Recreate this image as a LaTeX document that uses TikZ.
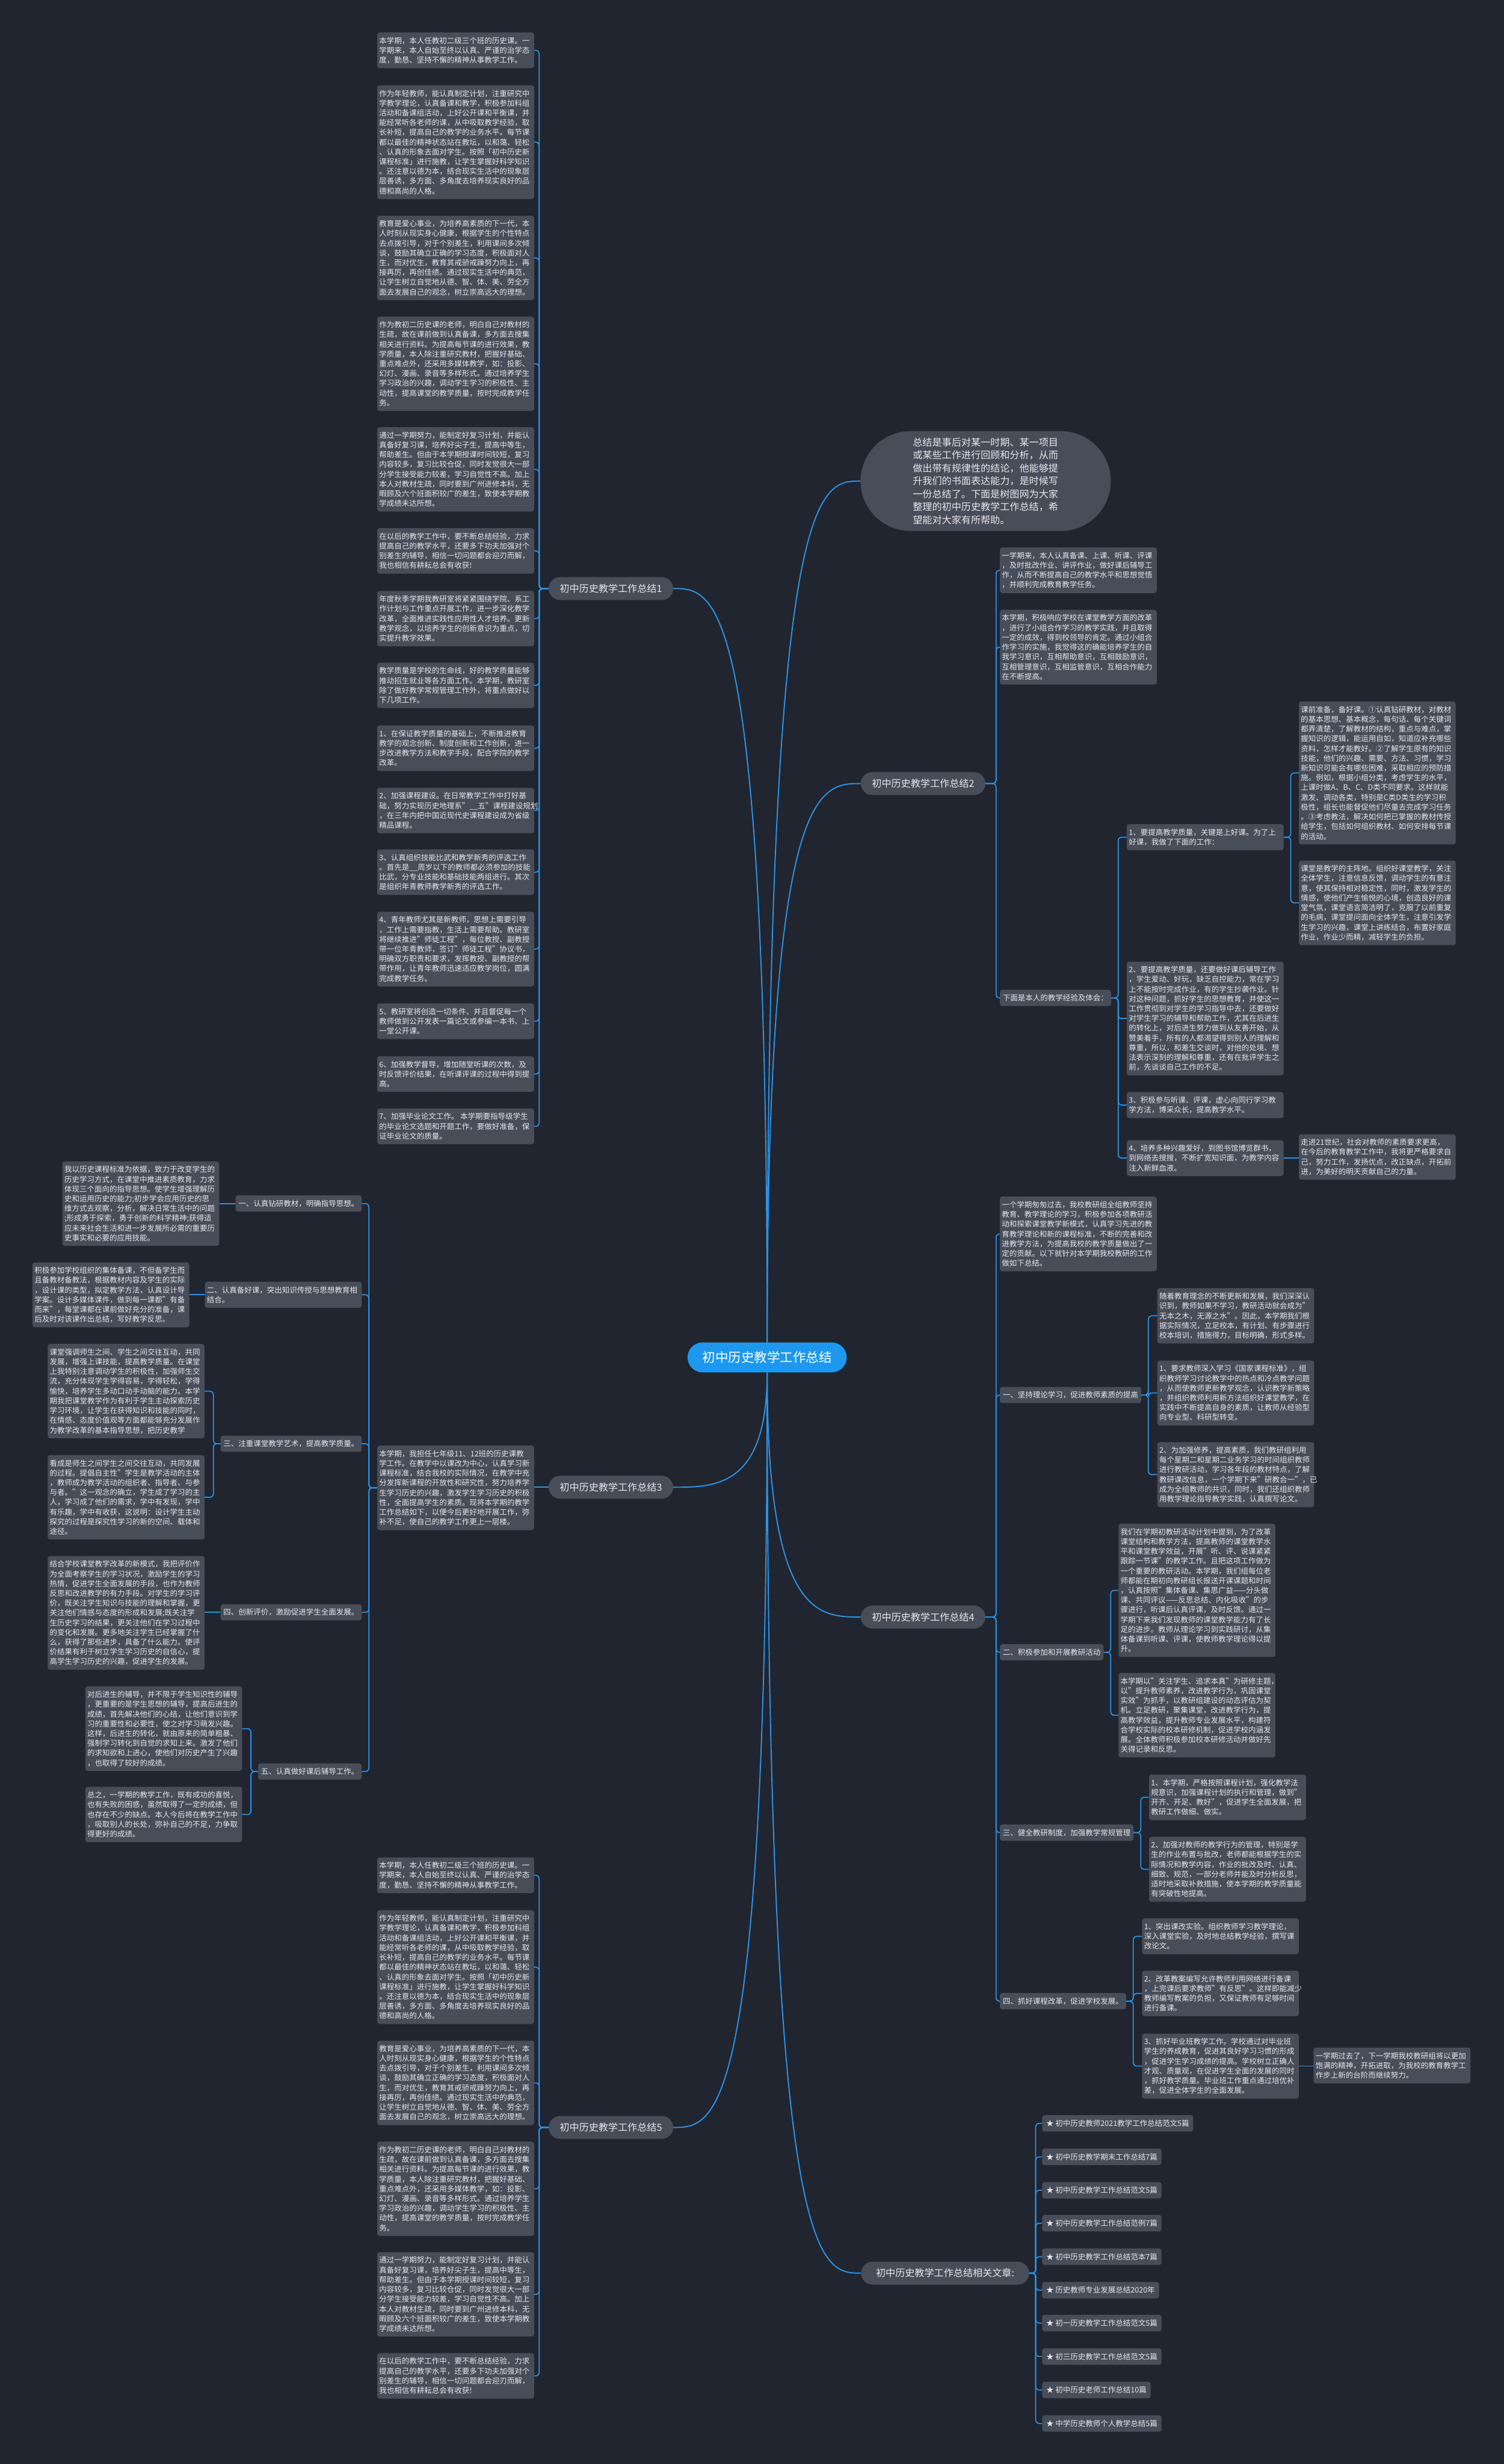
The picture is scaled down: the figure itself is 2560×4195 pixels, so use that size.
\documentclass[tikz,border=0pt]{standalone}
\usepackage{fontspec}
\setmainfont{Noto Sans CJK SC}
\usetikzlibrary{calc}
\definecolor{bgc}{HTML}{21252F}
\definecolor{boxc}{HTML}{484D5A}
\definecolor{txtc}{HTML}{E6E8EC}
\definecolor{linec}{HTML}{2A93E6}
\definecolor{rootc}{HTML}{1E98EE}
\newcommand{\smallfs}{\fontsize{12.8pt}{16.6pt}\selectfont}
\newcommand{\tbx}[5]{\node[tbox] (#1) at (#2,#3) {\parbox[c][\dimexpr 16.6pt*#4+11pt\relax][c]{260pt}{\raggedright #5}};}
\newcommand{\cR}[3]{\draw[cn] (#1.east) -- ++(#3,0) |- (#2.west);}
\newcommand{\cL}[3]{\draw[cn] (#1.west) -- ++(-#3,0) |- (#2.east);}
\newcommand{\rootUp}[2]{\draw[rcn] (root.north) .. controls (root.north |- #1.#2) and ($(root.north |- #1.#2)!0.55!(#1.#2)$) .. (#1.#2);}
\newcommand{\rootDn}[2]{\draw[rcn] (root.south) .. controls (root.south |- #1.#2) and ($(root.south |- #1.#2)!0.55!(#1.#2)$) .. (#1.#2);}
\begin{document}
\begin{tikzpicture}[x=1pt,y=-1pt,
  tbox/.style={fill=boxc,rounded corners=4pt,text=txtc,inner xsep=3.5pt,inner ysep=0pt,anchor=north west,font=\smallfs},
  lbl/.style={fill=boxc,rounded corners=4pt,text=txtc,inner xsep=5pt,inner ysep=0pt,minimum height=27.6pt,font=\smallfs},
  item/.style={fill=boxc,rounded corners=4pt,text=txtc,inner xsep=7pt,inner ysep=0pt,minimum height=28pt,anchor=west,font=\smallfs},
  pill/.style={fill=boxc,rounded corners=19.5pt,minimum width=212pt,minimum height=39pt,text=txtc,inner sep=0pt,font=\fontsize{16.5pt}{20pt}\selectfont},
  rootn/.style={fill=rootc,rounded corners=25.5pt,minimum width=271pt,minimum height=51pt,text=white,inner sep=0pt,font=\fontsize{22pt}{26pt}\selectfont},
  bub/.style={fill=boxc,rounded corners=85pt,minimum width=426pt,minimum height=170pt,text=txtc,inner sep=0pt},
  cn/.style={draw=linec,line width=1.8pt,rounded corners=6pt},
  rcn/.style={draw=linec,line width=2pt}
]
\fill[bgc] (0,0) rectangle (2560,4195);
\useasboundingbox (0,0) rectangle (2560,4195);

% ---------- root and first level ----------
\node[rootn] (root) at (1306,2311) {初中历史教学工作总结};
\node[pill] (n1) at (1040,1002) {初中历史教学工作总结1};
\node[pill] (n2) at (1571.5,1334) {初中历史教学工作总结2};
\node[pill] (n3) at (1040,2532) {初中历史教学工作总结3};
\node[pill] (n4) at (1571.5,2753) {初中历史教学工作总结4};
\node[pill] (n5) at (1040,3622) {初中历史教学工作总结5};
\node[pill,minimum width=286pt] (rel) at (1609,3870) {初中历史教学工作总结相关文章:};
\node[bub] (bub) at (1678,819) {\parbox{248pt}{\fontsize{16.5pt}{22pt}\selectfont\raggedright
总结是事后对某一时期、某一项目\\或某些工作进行回顾和分析，从而\\做出带有规律性的结论，他能够提\\升我们的书面表达能力，是时候写\\一份总结了。下面是树图网为大家\\整理的初中历史教学工作总结，希\\望能对大家有所帮助。}};

\rootUp{n1}{east}
\rootUp{bub}{west}
\rootUp{n2}{west}
\rootDn{n3}{east}
\rootDn{n4}{west}
\rootDn{n5}{east}
\rootDn{rel}{west}

% ---------- branch 1 ----------
\tbx{a1}{642}{55}{3}{本学期，本人任教初二级三个班的历史课。一\\学期来，本人自始至终以认真、严谨的治学态\\度，勤恳、坚持不懈的精神从事教学工作。}
\tbx{a2}{642}{145}{11}{作为年轻教师，能认真制定计划，注重研究中\\学教学理论，认真备课和教学，积极参加科组\\活动和备课组活动，上好公开课和平衡课，并\\能经常听各老师的课，从中吸取教学经验，取\\长补短，提高自己的教学的业务水平。每节课\\都以最佳的精神状态站在教坛，以和蔼、轻松\\、认真的形象去面对学生。按照「初中历史新\\课程标准」进行施教，让学生掌握好科学知识\\。还注意以德为本，结合现实生活中的现象层\\层善诱，多方面、多角度去培养现实良好的品\\德和高尚的人格。}
\tbx{a3}{642}{367}{8}{教育是爱心事业，为培养高素质的下一代，本\\人时刻从现实身心健康，根据学生的个性特点\\去点拨引导，对于个别差生，利用课间多次倾\\谈，鼓励其确立正确的学习态度，积极面对人\\生，而对优生，教育其戒骄戒躁努力向上，再\\接再厉，再创佳绩。通过现实生活中的典范，\\让学生树立自觉地从德、智、体、美、劳全方\\面去发展自己的观念，树立崇高远大的理想。}
\tbx{a4}{642}{539}{9}{作为教初二历史课的老师，明白自己对教材的\\生疏，故在课前做到认真备课，多方面去搜集\\相关进行资料。为提高每节课的进行效果，教\\学质量，本人除注重研究教材，把握好基础、\\重点难点外，还采用多媒体教学，如：投影、\\幻灯、漫画、录音等多样形式。通过培养学生\\学习政治的兴趣，调动学生学习的积极性、主\\动性，提高课堂的教学质量，按时完成教学任\\务。}
\tbx{a5}{642}{727}{8}{通过一学期努力，能制定好复习计划，并能认\\真备好复习课，培养好尖子生，提高中等生，\\帮助差生。但由于本学期授课时间较短，复习\\内容较多，复习比较仓促，同时发觉很大一部\\分学生接受能力较差，学习自觉性不高。加上\\本人对教材生疏，同时要到广州进修本科，无\\暇顾及六个班面积较广的差生，致使本学期教\\学成绩未达所想。}
\tbx{a6}{642}{899}{4}{在以后的教学工作中，要不断总结经验，力求\\提高自己的教学水平，还要多下功夫加强对个\\别差生的辅导，相信一切问题都会迎刃而解，\\我也相信有耕耘总会有收获!}
\tbx{a7}{642}{1006}{5}{年度秋季学期我教研室将紧紧围绕学院、系工\\作计划与工作重点开展工作，进一步深化教学\\改革，全面推进实践性应用性人才培养。更新\\教学观念，以培养学生的创新意识为重点，切\\实提升教学效果。}
\tbx{a8}{642}{1128}{4}{教学质量是学校的生命线，好的教学质量能够\\推动招生就业等各方面工作。本学期，教研室\\除了做好教学常规管理工作外，将重点做好以\\下几项工作。}
\tbx{a9}{642}{1235}{4}{1、在保证教学质量的基础上，不断推进教育\\教学的观念创新、制度创新和工作创新，进一\\步改进教学方法和教学手段，配合学院的教学\\改革。}
\tbx{a10}{642}{1341}{4}{2、加强课程建设。在日常教学工作中打好基\\础，努力实现历史地理系"\_\_五"课程建设规划\\，在三年内把中国近现代史课程建设成为省级\\精品课程。}
\tbx{a11}{642}{1446}{4}{3、认真组织技能比武和教学新秀的评选工作\\。首先是\_\_周岁以下的教师都必须参加的技能\\比武，分专业技能和基础技能两组进行。其次\\是组织年青教师教学新秀的评选工作。}
\tbx{a12}{642}{1552}{7}{4、青年教师尤其是新教师，思想上需要引导\\，工作上需要指教，生活上需要帮助。教研室\\将继续推进"师徒工程"，每位教授、副教授\\带一位年青教师，签订"师徒工程"协议书，\\明确双方职责和要求，发挥教授、副教授的帮\\带作用，让青年教师迅速适应教学岗位，圆满\\完成教学任务。}
\tbx{a13}{642}{1708}{3}{5、教研室将创造一切条件、并且督促每一个\\教师做到公开发表一篇论文或参编一本书、上\\一堂公开课。}
\tbx{a14}{642}{1798}{3}{6、加强教学督导，增加随堂听课的次数，及\\时反馈评价结果，在听课评课的过程中得到提\\高。}
\tbx{a15}{642}{1887}{3}{7、加强毕业论文工作。 本学期要指导级学生\\的毕业论文选题和开题工作，要做好准备，保\\证毕业论文的质量。}
\foreach \k in {1,...,15}{\cL{n1}{a\k}{16}}

% ---------- branch 5 ----------
\tbx{e1}{642}{3162}{3}{本学期，本人任教初二级三个班的历史课。一\\学期来，本人自始至终以认真、严谨的治学态\\度，勤恳、坚持不懈的精神从事教学工作。}
\tbx{e2}{642}{3252}{11}{作为年轻教师，能认真制定计划，注重研究中\\学教学理论，认真备课和教学，积极参加科组\\活动和备课组活动，上好公开课和平衡课，并\\能经常听各老师的课，从中吸取教学经验，取\\长补短，提高自己的教学的业务水平。每节课\\都以最佳的精神状态站在教坛，以和蔼、轻松\\、认真的形象去面对学生。按照「初中历史新\\课程标准」进行施教，让学生掌握好科学知识\\。还注意以德为本，结合现实生活中的现象层\\层善诱，多方面、多角度去培养现实良好的品\\德和高尚的人格。}
\tbx{e3}{642}{3474}{8}{教育是爱心事业，为培养高素质的下一代，本\\人时刻从现实身心健康，根据学生的个性特点\\去点拨引导，对于个别差生，利用课间多次倾\\谈，鼓励其确立正确的学习态度，积极面对人\\生，而对优生，教育其戒骄戒躁努力向上，再\\接再厉，再创佳绩。通过现实生活中的典范，\\让学生树立自觉地从德、智、体、美、劳全方\\面去发展自己的观念，树立崇高远大的理想。}
\tbx{e4}{642}{3646}{9}{作为教初二历史课的老师，明白自己对教材的\\生疏，故在课前做到认真备课，多方面去搜集\\相关进行资料。为提高每节课的进行效果，教\\学质量，本人除注重研究教材，把握好基础、\\重点难点外，还采用多媒体教学，如：投影、\\幻灯、漫画、录音等多样形式。通过培养学生\\学习政治的兴趣，调动学生学习的积极性、主\\动性，提高课堂的教学质量，按时完成教学任\\务。}
\tbx{e5}{642}{3834}{8}{通过一学期努力，能制定好复习计划，并能认\\真备好复习课，培养好尖子生，提高中等生，\\帮助差生。但由于本学期授课时间较短，复习\\内容较多，复习比较仓促，同时发觉很大一部\\分学生接受能力较差，学习自觉性不高。加上\\本人对教材生疏，同时要到广州进修本科，无\\暇顾及六个班面积较广的差生，致使本学期教\\学成绩未达所想。}
\tbx{e6}{642}{4006}{4}{在以后的教学工作中，要不断总结经验，力求\\提高自己的教学水平，还要多下功夫加强对个\\别差生的辅导，相信一切问题都会迎刃而解，\\我也相信有耕耘总会有收获!}
\foreach \k in {1,...,6}{\cL{n5}{e\k}{16}}

% ---------- branch 2 ----------
\tbx{b1}{1702}{932}{4}{一学期来，本人认真备课、上课、听课、评课\\，及时批改作业、讲评作业，做好课后辅导工\\作，从而不断提高自己的教学水平和思想觉悟\\，并顺利完成教育教学任务。}
\tbx{b2}{1702}{1038}{7}{本学期，积极响应学校在课堂教学方面的改革\\，进行了小组合作学习的教学实践，并且取得\\一定的成效，得到校领导的肯定。通过小组合\\作学习的实施，我觉得这的确能培养学生的自\\我学习意识，互相帮助意识，互相鼓励意识，\\互相管理意识，互相监管意识，互相合作能力\\在不断提高。}
\node[lbl,anchor=west] (b3) at (1702,1699) {下面是本人的教学经验及体会：};
\foreach \k in {1,2,3}{\cR{n2}{b\k}{18}}
\tbx{c1}{1918}{1403}{2}{1、要提高教学质量，关键是上好课。为了上\\好课，我做了下面的工作：}
\tbx{c2}{1918}{1637}{11}{2、要提高教学质量，还要做好课后辅导工作\\，学生爱动、好玩，缺乏自控能力，常在学习\\上不能按时完成作业，有的学生抄袭作业。针\\对这种问题，抓好学生的思想教育，并使这一\\工作贯彻到对学生的学习指导中去，还要做好\\对学生学习的辅导和帮助工作，尤其在后进生\\的转化上，对后进生努力做到从友善开始，从\\赞美着手，所有的人都渴望得到别人的理解和\\尊重，所以，和差生交谈时，对他的处境、想\\法表示深刻的理解和尊重，还有在批评学生之\\前，先谈谈自己工作的不足。}
\tbx{c3}{1918}{1859}{2}{3、积极参与听课、评课，虚心向同行学习教\\学方法，博采众长，提高教学水平。}
\tbx{c4}{1918}{1941}{3}{4、培养多种兴趣爱好，到图书馆博览群书，\\到网络去搜搜，不断扩宽知识面，为教学内容\\注入新鲜血液。}
\foreach \k in {1,...,4}{\cR{b3}{c\k}{12}}
\tbx{c1a}{2211}{1194}{14}{课前准备，备好课。①认真钻研教材，对教材\\的基本思想、基本概念，每句话、每个关键词\\都弄清楚，了解教材的结构，重点与难点，掌\\握知识的逻辑，能运用自如，知道应补充哪些\\资料，怎样才能教好。②了解学生原有的知识\\技能，他们的兴趣、需要、方法、习惯，学习\\新知识可能会有哪些困难，采取相应的预防措\\施。例如，根据小组分类，考虑学生的水平，\\上课时做A、B、C、D类不同要求。这样就能\\激发、调动各类，特别是C类D类生的学习积\\极性，组长也能督促他们尽量去完成学习任务\\。③考虑教法，解决如何把已掌握的教材传授\\给学生，包括如何组织教材、如何安排每节课\\的活动。}
\tbx{c1b}{2211}{1465}{8}{课堂是教学的主阵地。组织好课堂教学，关注\\全体学生，注意信息反馈，调动学生的有意注\\意，使其保持相对稳定性，同时，激发学生的\\情感，使他们产生愉悦的心境，创造良好的课\\堂气氛，课堂语言简洁明了，克服了以前重复\\的毛病，课堂提问面向全体学生，注意引发学\\生学习的兴趣，课堂上讲练结合，布置好家庭\\作业，作业少而精，减轻学生的负担。}
\cR{c1}{c1a}{12}
\cR{c1}{c1b}{12}
\tbx{c4a}{2211}{1931}{4}{走进21世纪，社会对教师的素质要求更高，\\在今后的教育教学工作中，我将更严格要求自\\己，努力工作，发扬优点，改正缺点，开拓前\\进，为美好的明天贡献自己的力量。}
\draw[cn] (c4.east) -- (c4a.west |- c4.east);

% ---------- branch 3 ----------
\tbx{s0}{642}{2461}{8}{本学期，我担任七年级11、12班的历史课教\\学工作。在教学中以课改为中心，认真学习新\\课程标准，结合我校的实际情况，在教学中充\\分发挥新课程的开放性和研究性，努力培养学\\生学习历史的兴趣，激发学生学习历史的积极\\性，全面提高学生的素质。现将本学期的教学\\工作总结如下，以便今后更好地开展工作，弥\\补不足，使自己的教学工作更上一层楼。}
\draw[cn] (n3.west) -- (s0.east |- n3.west);
\node[lbl,anchor=east] (l1) at (616,2049) {一、认真钻研教材，明确指导思想。};
\node[tbox,anchor=north east] (l2) at (616,2182) {\parbox[c][\dimexpr 16.6pt*2+11pt\relax][c]{260pt}{\raggedright 二、认真备好课，突出知识传授与思想教育相\\结合。}};
\node[lbl,anchor=east] (l3) at (616,2458) {三、注重课堂教学艺术，提高教学质量。};
\node[lbl,anchor=east] (l4) at (616,2745) {四、创新评价，激励促进学生全面发展。};
\node[lbl,anchor=east] (l5) at (616,3016) {五、认真做好课后辅导工作。};
\foreach \k in {1,...,5}{\cL{s0}{l\k}{14}}
\tbx{l1a}{106}{1977}{8}{我以历史课程标准为依据，致力于改变学生的\\历史学习方式，在课堂中推进素质教育，力求\\体现三个面向的指导思想。使学生增强理解历\\史和运用历史的能力;初步学会应用历史的思\\维方式去观察，分析，解决日常生活中的问题\\;形成勇于探索，勇于创新的科学精神;获得适\\应未来社会生活和进一步发展所必需的重要历\\史事实和必要的应用技能。}
\tbx{l2a}{55}{2149}{6}{积极参加学校组织的集体备课，不但备学生而\\且备教材备教法，根据教材内容及学生的实际\\，设计课的类型，拟定教学方法，认真设计导\\学案。设计多媒体课件，做到每一课都"有备\\而来"，每堂课都在课前做好充分的准备，课\\后及时对该课作出总结，写好教学反思。}
\tbx{l3a}{81}{2288}{9}{课堂强调师生之间、学生之间交往互动，共同\\发展，增强上课技能，提高教学质量。在课堂\\上我特别注意调动学生的积极性，加强师生交\\流，充分体现学生学得容易，学得轻松，学得\\愉快，培养学生多动口动手动脑的能力。本学\\期我把课堂教学作为有利于学生主动探索历史\\学习环境，让学生在获得知识和技能的同时，\\在情感、态度价值观等方面都能够充分发展作\\为教学改革的基本指导思想，把历史教学}
\tbx{l3b}{81}{2477}{8}{看成是师生之间学生之间交往互动，共同发展\\的过程。提倡自主性"学生是教学活动的主体\\，教师成为教学活动的组织者、指导者、与参\\与者。"这一观念的确立，学生成了学习的主\\人，学习成了他们的需求，学中有发现，学中\\有乐趣，学中有收获，这说明：设计学生主动\\探究的过程是探究性学习的新的空间、载体和\\途径。}
\tbx{l4a}{81}{2649}{11}{结合学校课堂教学改革的新模式，我把评价作\\为全面考察学生的学习状况，激励学生的学习\\热情，促进学生全面发展的手段，也作为教师\\反思和改进教学的有力手段。对学生的学习评\\价，既关注学生知识与技能的理解和掌握，更\\关注他们情感与态度的形成和发展;既关注学\\生历史学习的结果，更关注他们在学习过程中\\的变化和发展。更多地关注学生已经掌握了什\\么，获得了那些进步，具备了什么能力。使评\\价结果有利于树立学生学习历史的自信心，提\\高学生学习历史的兴趣，促进学生的发展。}
\tbx{l5a}{145}{2871}{8}{对后进生的辅导，并不限于学生知识性的辅导\\，更重要的是学生思想的辅导，提高后进生的\\成绩，首先解决他们的心结，让他们意识到学\\习的重要性和必要性，使之对学习萌发兴趣。\\这样，后进生的转化，就由原来的简单粗暴、\\强制学习转化到自觉的求知上来。激发了他们\\的求知欲和上进心，使他们对历史产生了兴趣\\，也取得了较好的成绩。}
\tbx{l5b}{145}{3042}{5}{总之，一学期的教学工作，既有成功的喜悦，\\也有失败的困惑，虽然取得了一定的成绩，但\\也存在不少的缺点。本人今后将在教学工作中\\，吸取别人的长处，弥补自己的不足，力争取\\得更好的成绩。}
\draw[cn] (l1.west) -- (l1a.east |- l1.west);
\draw[cn] (l2.west) -- (l2a.east |- l2.west);
\cL{l3}{l3a}{12}
\cL{l3}{l3b}{12}
\draw[cn] (l4.west) -- (l4a.east |- l4.west);
\cL{l5}{l5a}{12}
\cL{l5}{l5b}{12}

% ---------- branch 4 ----------
\tbx{d0}{1702}{2037}{7}{一个学期匆匆过去，我校教研组全组教师坚持\\教育、教学理论的学习，积极参加各项教研活\\动和探索课堂教学新模式，认真学习先进的教\\育教学理论和新的课程标准，不断的完善和改\\进教学方法，为提高我校的教学质量做出了一\\定的贡献。以下就针对本学期我校教研的工作\\做如下总结。}
\node[lbl,anchor=west] (d1) at (1702,2375) {一、坚持理论学习，促进教师素质的提高};
\node[lbl,anchor=west] (d2) at (1702,2813) {二、积极参加和开展教研活动};
\node[lbl,anchor=west] (d3) at (1702,3120) {三、健全教研制度，加强教学常规管理};
\node[lbl,anchor=west] (d4) at (1702,3407) {四、抓好课程改革，促进学校发展。};
\foreach \k in {0,...,4}{\cR{n4}{d\k}{18}}
\tbx{d1a}{1970}{2193}{5}{随着教育理念的不断更新和发展，我们深深认\\识到，教师如果不学习，教研活动就会成为"\\无本之木，无源之水"。因此，本学期我们根\\据实际情况，立足校本，有计划、有步骤进行\\校本培训，措施得力，目标明确，形式多样。}
\tbx{d1b}{1970}{2316}{6}{1、要求教师深入学习《国家课程标准》，组\\织教师学习讨论教学中的热点和冷点教学问题\\，从而使教师更新教学观念，认识教学新策略\\，并组织教师利用新方法组织好课堂教学，在\\实践中不断提高自身的素质，让教师从经验型\\向专业型、科研型转变。}
\tbx{d1c}{1970}{2455}{6}{2、为加强修养，提高素质，我们教研组利用\\每个星期二和星期二业务学习的时间组织教师\\进行教研活动，学习各年段的教材特点，了解\\教研课改信息，一个学期下来"研教合一"，已\\成为全组教师的共识，同时，我们还组织教师\\用教学理论指导教学实践，认真撰写论文。}
\foreach \k in {a,b,c}{\cR{d1}{d1\k}{12}}
\tbx{d2a}{1904}{2594}{13}{我们在学期初教研活动计划中提到，为了改革\\课堂结构和教学方法，提高教师的课堂教学水\\平和课堂教学效益，开展"听、评、说课紧紧\\跟踪一节课"的教学工作。且把这项工作做为\\一个重要的教研活动。本学期，我们组每位老\\师都能在期初向教研组长报送开课课题和时间\\，认真按照"集体备课、集思广益——分头做\\课、共同评议——反思总结、内化吸收"的步\\骤进行，听课后认真评课，及时反馈。通过一\\学期下来我们发现教师的课堂教学能力有了长\\足的进步。教师从理论学习到实践研讨，从集\\体备课到听课、评课，使教师教学理论得以提\\升。}
\tbx{d2b}{1904}{2848}{8}{本学期以"关注学生、追求本真"为研修主题，\\以"提升教师素养，改进教学行为，巩固课堂\\实效"为抓手，以教研组建设的动态评估为契\\机。立足教研，聚集课堂，改进教学行为，提\\高教学效益，提升教师专业发展水平，构建符\\合学校实际的校本研修机制，促进学校内涵发\\展。全体教师积极参加校本研修活动并做好先\\关得记录和反思。}
\foreach \k in {a,b}{\cR{d2}{d2\k}{12}}
\tbx{d3a}{1956}{3021}{4}{1、本学期，严格按照课程计划，强化教学法\\规意识，加强课程计划的执行和管理，做到"\\开齐、开足、教好"，促进学生全面发展，把\\教研工作做细、做实。}
\tbx{d3b}{1956}{3127}{6}{2、加强对教师的教学行为的管理，特别是学\\生的作业布置与批改，老师都能根据学生的实\\际情况和教学内容，作业的批改及时、认真、\\细致、规范，一部分老师并能及时分析反思，\\适时地采取补救措施，使本学期的教学质量能\\有突破性地提高。}
\foreach \k in {a,b}{\cR{d3}{d3\k}{12}}
\tbx{d4a}{1944}{3266}{3}{1、突出课改实验。组织教师学习教学理论，\\深入课堂实验，及时地总结教学经验，撰写课\\改论文。}
\tbx{d4b}{1944}{3355}{4}{2、改革教案编写允许教师利用网络进行备课\\，上完课后要求教师"有反思"。这样即能减少\\教师编写教案的负担，又保证教师有足够时间\\进行备课。}
\tbx{d4c}{1944}{3462}{6}{3、抓好毕业班教学工作。学校通过对毕业班\\学生的养成教育，促进其良好学习习惯的形成\\，促进学生学习成绩的提高。学校树立正确人\\才观、质量观，在促进学生全面的发展的同时\\，抓好教学质量。毕业班工作重点通过培优补\\差，促进全体学生的全面发展。}
\foreach \k in {a,b,c}{\cR{d4}{d4\k}{12}}
\tbx{d4c1}{2236}{3486}{3}{一学期过去了，下一学期我校教研组将以更加\\饱满的精神，开拓进取，为我校的教育教学工\\作步上新的台阶而继续努力。}
\draw[cn] (d4c.east) -- (d4c1.west |- d4c.east);

% ---------- related articles ----------
\node[item] (r1) at (1774,3615) {★ 初中历史教师2021教学工作总结范文5篇};
\node[item] (r2) at (1774,3672) {★ 初中历史教学期末工作总结7篇};
\node[item] (r3) at (1774,3729) {★ 初中历史教学工作总结范文5篇};
\node[item] (r4) at (1774,3785) {★ 初中历史教学工作总结范例7篇};
\node[item] (r5) at (1774,3842) {★ 初中历史教学工作总结范本7篇};
\node[item] (r6) at (1774,3899) {★ 历史教师专业发展总结2020年};
\node[item] (r7) at (1774,3955) {★ 初一历史教学工作总结范文5篇};
\node[item] (r8) at (1774,4012) {★ 初三历史教学工作总结范文5篇};
\node[item] (r9) at (1774,4069) {★ 初中历史老师工作总结10篇};
\node[item] (r10) at (1774,4126) {★ 中学历史教师个人教学总结5篇};
\foreach \k in {1,...,10}{\cR{rel}{r\k}{11}}
\end{tikzpicture}
\end{document}
